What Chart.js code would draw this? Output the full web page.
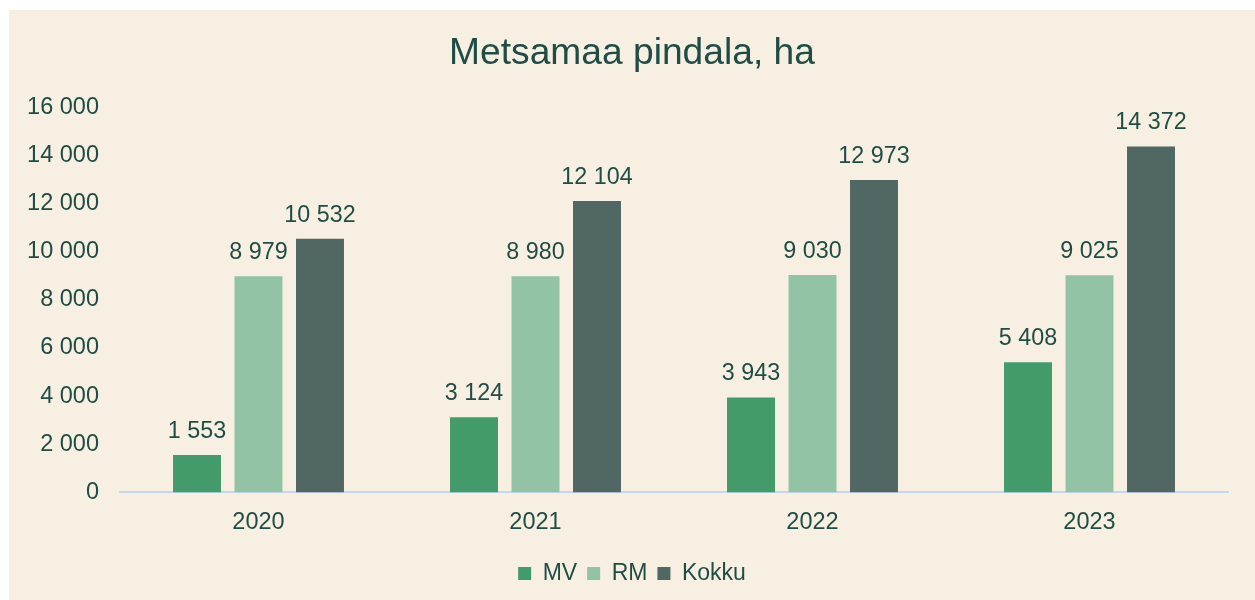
<!DOCTYPE html>
<html>
<head>
<meta charset="utf-8">
<script src="https://cdn.jsdelivr.net/npm/chart.js@4/dist/chart.umd.min.js"></script>
<style>
  html, body { margin: 0; padding: 0; background: #ffffff; }
  #wrap {
    position: absolute; left: 9px; top: 10px;
    width: 1246px; height: 590px;
    background: #f7efe2;
  }
</style>
</head>
<body>
<div id="wrap"><canvas id="chart"></canvas></div>
<script>
const years = ['2020', '2021', '2022', '2023'];
const mvValues = [1553, 3124, 3943, 5408];
const rmValues = [8979, 8980, 9030, 9025];
const totalValues = [10532, 12104, 12973, 14372];
const seriesNames = ['MV', 'RM', 'Kokku'];

const textColor = '#1f4d45';
const fontFamily = '"Liberation Sans", Arial, sans-serif';

// thousands with a space, like the source
function fmt(n) {
    return String(n).replace(/\B(?=(\d{3})+(?!\d))/g, ' ');
}

const valueLabels = {
    id: 'valueLabels',
    afterDatasetsDraw(chart) {
        const ctx = chart.ctx;
        ctx.save();
        ctx.font = '23.3px ' + fontFamily;
        ctx.fillStyle = textColor;
        ctx.textAlign = 'center';
        ctx.textBaseline = 'alphabetic';
        chart.data.datasets.forEach((ds, i) => {
            chart.getDatasetMeta(i).data.forEach((bar, j) => {
                ctx.fillText(fmt(ds.data[j]), bar.x, bar.y - 17);
            });
        });
        ctx.restore();
    }
};

new Chart(document.getElementById('chart'), {
    type: 'bar',
    data: {
        labels: years,
        datasets: [
            { label: seriesNames[0], data: mvValues, backgroundColor: '#439a6a' },
            { label: seriesNames[1], data: rmValues, backgroundColor: '#93c3a5' },
            { label: seriesNames[2], data: totalValues, backgroundColor: '#506763' },
        ]
    },
    options: {
        responsive: true,
        maintainAspectRatio: false,
        animation: false,
        layout: { padding: { left: 0, right: 0, top: 0, bottom: 5 } },
        datasets: {
            bar: { categoryPercentage: 0.666, barPercentage: 0.78 }
        },
        plugins: {
            title: {
                display: true,
                text: 'Metsamaa pindala, ha',
                color: textColor,
                font: { family: fontFamily, size: 37.2, weight: 'normal' },
                padding: { top: 21.3, bottom: 31.3 }
            },
            legend: {
                position: 'bottom',
                labels: {
                    color: textColor,
                    font: { family: fontFamily, size: 23 },
                    boxWidth: 13,
                    boxHeight: 13,
                    padding: 10
                }
            },
            tooltip: { enabled: false }
        },
        scales: {
            x: {
                grid: { display: false, drawTicks: false },
                border: { display: true, color: '#c5d6f0', width: 2 },
                ticks: { color: textColor, font: { family: fontFamily, size: 23.5 }, padding: 16 },
                afterFit: s => { s.height = 59.6; }
            },
            y: {
                min: 0,
                max: 16000,
                grid: { display: false, drawTicks: false },
                border: { display: false },
                ticks: {
                    stepSize: 2000,
                    color: textColor,
                    font: { family: fontFamily, size: 23.5 },
                    padding: 21,
                    callback: v => fmt(v)
                },
                afterFit: s => { s.width = 111; }
            },
            // empty right margin, keeps title and legend centred on the whole box
            yRight: {
                position: 'right',
                display: true,
                grid: { display: false, drawTicks: false },
                border: { display: false },
                ticks: { display: false },
                afterFit: s => { s.width = 27; }
            }
        }
    },
    plugins: [valueLabels]
});
</script>
</body>
</html>
